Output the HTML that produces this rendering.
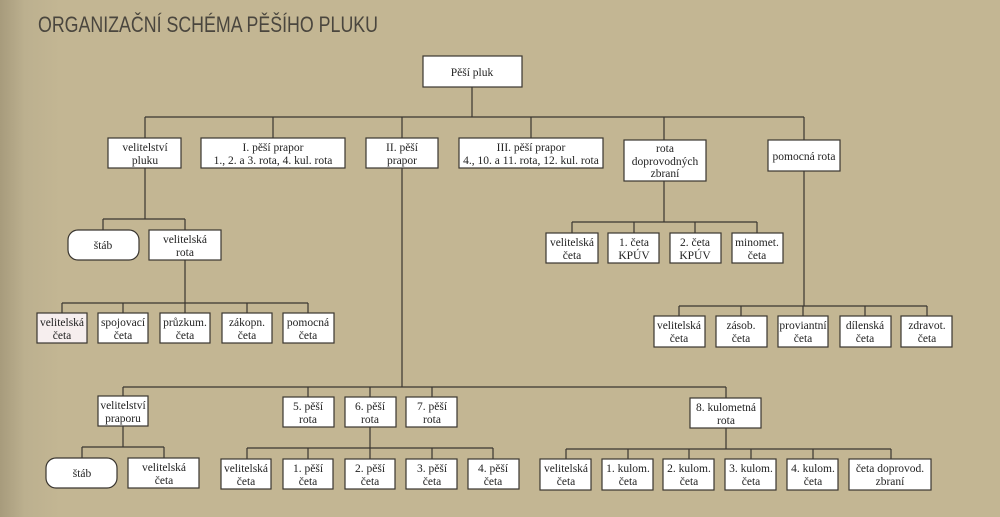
<!DOCTYPE html>
<html><head><meta charset="utf-8"><style>
html,body{margin:0;padding:0}
body{width:1000px;height:517px;overflow:hidden;background:linear-gradient(90deg,#a79b7c 0px,#bcb08f 25px,#c3b693 60px,#c3b693 100%)}
svg{display:block}
text{font-family:"Liberation Serif",serif;font-size:11.5px;fill:#222}
</style></head><body>
<svg width="1000" height="517" viewBox="0 0 1000 517" xmlns="http://www.w3.org/2000/svg">
<text x="38" y="32" style="font-family:'Liberation Sans',sans-serif;font-size:22px;fill:#4a463e" textLength="340" lengthAdjust="spacingAndGlyphs">ORGANIZAČNÍ SCHÉMA PĚŠÍHO PLUKU</text>
<g stroke="#3a3630" stroke-width="1.2" fill="none">
<path d="M472 87V117M145 117H804M145 117V138M273 117V138M402 117V138M531 117V138M664 117V140M804 117V140"/>
<path d="M664 181V222M572 222H757M572 222V233M634 222V233M695 222V233M757 222V233"/>
<path d="M804 171V306M679 306H927M679 306V316M741 306V316M803 306V316M865 306V316M927 306V316"/>
<path d="M145 168V219M103 219H185M103 219V230M185 219V230"/>
<path d="M185 260V303M62 303H308M62 303V313M123 303V313M185 303V313M247 303V313M308 303V313"/>
<path d="M402 168V387M123 387H726M123 387V396M308 387V397M370 387V397M432 387V397M726 387V398"/>
<path d="M123 426V447M82 447H164M82 447V458M164 447V458"/>
<path d="M370 427V459M247 448H493M247 448V459M308 448V459M432 448V459M493 448V459"/>
<path d="M726 428V449M566 449H891M566 449V459M628 449V459M689 449V459M751 449V459M813 449V459M891 449V459"/>
</g>
<g fill="#fff" stroke="#3a3630" stroke-width="1.2">
<rect x="423" y="56" width="99" height="31"/>
<rect x="108" y="138" width="73" height="30"/>
<rect x="201" y="138" width="144" height="30"/>
<rect x="366" y="138" width="72" height="30"/>
<rect x="459" y="138" width="144" height="30"/>
<rect x="624" y="140" width="82" height="41"/>
<rect x="768" y="140" width="72" height="31"/>
<rect x="546" y="233" width="52" height="30"/><rect x="608" y="233" width="51" height="30"/><rect x="670" y="233" width="51" height="30"/><rect x="732" y="233" width="51" height="30"/>
<rect x="654" y="316" width="51" height="31"/><rect x="716" y="316" width="51" height="31"/><rect x="778" y="316" width="50" height="31"/><rect x="840" y="316" width="51" height="31"/><rect x="901" y="316" width="51" height="31"/>
<rect x="68" y="230" width="71" height="30" rx="10"/><rect x="149" y="230" width="72" height="30"/>
<rect x="37" y="313" width="50" height="30" fill="#f6eeee"/><rect x="98" y="313" width="50" height="30"/><rect x="160" y="313" width="50" height="30"/><rect x="222" y="313" width="50" height="30"/><rect x="283" y="313" width="51" height="30"/>
<rect x="98" y="396" width="50" height="30"/><rect x="283" y="397" width="51" height="30"/><rect x="345" y="397" width="51" height="30"/><rect x="406" y="397" width="51" height="30"/><rect x="690" y="398" width="71" height="30"/>
<rect x="46" y="458" width="71" height="30" rx="10"/><rect x="128" y="458" width="71" height="30"/>
<rect x="221" y="459" width="50" height="30"/><rect x="283" y="459" width="50" height="30"/><rect x="345" y="459" width="50" height="30"/><rect x="406" y="459" width="51" height="30"/><rect x="468" y="459" width="51" height="30"/>
<rect x="540" y="459" width="51" height="31"/><rect x="602" y="459" width="51" height="31"/><rect x="663" y="459" width="51" height="31"/><rect x="725" y="459" width="51" height="31"/><rect x="787" y="459" width="51" height="31"/><rect x="849" y="459" width="82" height="31"/>
</g>
<g text-anchor="middle">
<text x="472" y="76">Pěší pluk</text>
<text x="145" y="151">velitelství</text><text x="145" y="164">pluku</text>
<text x="273" y="151">I. pěší prapor</text><text x="273" y="164">1., 2. a 3. rota, 4. kul. rota</text>
<text x="402" y="151">II. pěší</text><text x="402" y="164">prapor</text>
<text x="531" y="151">III. pěší prapor</text><text x="531" y="164">4., 10. a 11. rota, 12. kul. rota</text>
<text x="665" y="152">rota</text><text x="665" y="165">doprovodných</text><text x="665" y="177">zbraní</text>
<text x="804" y="160">pomocná rota</text>
<text x="572" y="246">velitelská</text><text x="572" y="259">četa</text>
<text x="634" y="246">1. četa</text><text x="634" y="259">KPÚV</text>
<text x="695" y="246">2. četa</text><text x="695" y="259">KPÚV</text>
<text x="757" y="246">minomet.</text><text x="757" y="259">četa</text>
<text x="679" y="329">velitelská</text><text x="679" y="342">četa</text>
<text x="741" y="329">zásob.</text><text x="741" y="342">četa</text>
<text x="803" y="329">proviantní</text><text x="803" y="342">četa</text>
<text x="865" y="329">dílenská</text><text x="865" y="342">četa</text>
<text x="927" y="329">zdravot.</text><text x="927" y="342">četa</text>
<text x="103" y="249">štáb</text>
<text x="185" y="243">velitelská</text><text x="185" y="256">rota</text>
<text x="62" y="326">velitelská</text><text x="62" y="339">četa</text>
<text x="123" y="326">spojovací</text><text x="123" y="339">četa</text>
<text x="185" y="326">průzkum.</text><text x="185" y="339">četa</text>
<text x="247" y="326">zákopn.</text><text x="247" y="339">četa</text>
<text x="308" y="326">pomocná</text><text x="308" y="339">četa</text>
<text x="123" y="409">velitelství</text><text x="123" y="422">praporu</text>
<text x="308" y="410">5. pěší</text><text x="308" y="423">rota</text>
<text x="370" y="410">6. pěší</text><text x="370" y="423">rota</text>
<text x="432" y="410">7. pěší</text><text x="432" y="423">rota</text>
<text x="726" y="411">8. kulometná</text><text x="726" y="424">rota</text>
<text x="82" y="477">štáb</text>
<text x="164" y="471">velitelská</text><text x="164" y="484">četa</text>
<text x="246" y="472">velitelská</text><text x="246" y="485">četa</text>
<text x="308" y="472">1. pěší</text><text x="308" y="485">četa</text>
<text x="370" y="472">2. pěší</text><text x="370" y="485">četa</text>
<text x="432" y="472">3. pěší</text><text x="432" y="485">četa</text>
<text x="493" y="472">4. pěší</text><text x="493" y="485">četa</text>
<text x="566" y="472">velitelská</text><text x="566" y="485">četa</text>
<text x="628" y="472">1. kulom.</text><text x="628" y="485">četa</text>
<text x="689" y="472">2. kulom.</text><text x="689" y="485">četa</text>
<text x="751" y="472">3. kulom.</text><text x="751" y="485">četa</text>
<text x="813" y="472">4. kulom.</text><text x="813" y="485">četa</text>
<text x="890" y="472">četa doprovod.</text><text x="890" y="485">zbraní</text>
</g>
</svg>
</body></html>
